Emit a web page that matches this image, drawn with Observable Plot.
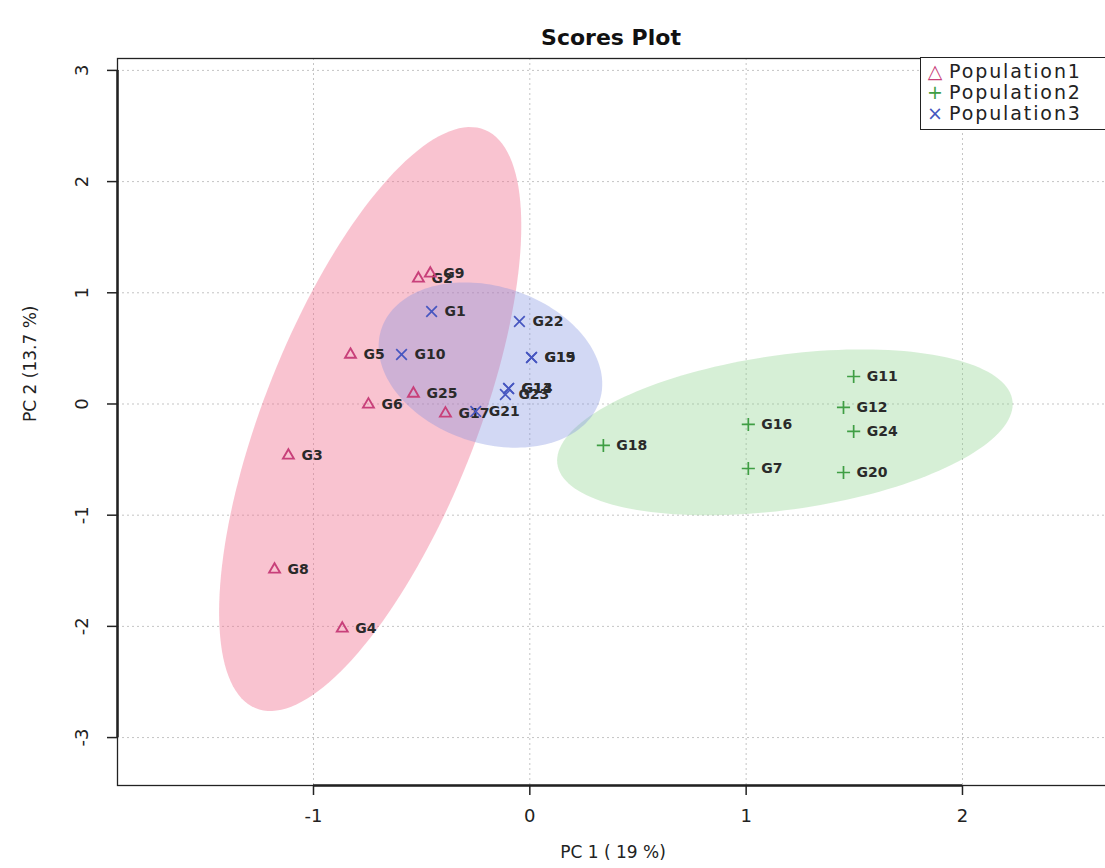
<!DOCTYPE html>
<html><head><meta charset="utf-8">
<script src="https://cdn.jsdelivr.net/npm/d3@7"></script>
<script src="https://cdn.jsdelivr.net/npm/@observablehq/plot@0.6"></script>
<style>
body{margin:0;background:#fff;overflow:hidden;font-family:"DejaVu Sans",sans-serif;}
#wrap{position:relative;width:1105px;height:868px;overflow:hidden;}
#title{height:50px;position:relative;}
#title span{position:absolute;left:0;width:1222px;text-align:center;top:26px;font-weight:bold;font-size:22px;line-height:24px;color:#111;}
#chart svg{max-width:none !important;display:block;}
#legend{position:absolute;left:920px;top:57px;width:220px;height:73px;border:1.5px solid #222;background:#fff;box-sizing:border-box;padding-top:3px;}
.row{height:21px;line-height:21px;font-size:19px;color:#222;white-space:nowrap;letter-spacing:1.9px;}
.row .sym{display:inline-block;width:16px;text-align:center;margin:0 6px 0 6px;letter-spacing:0;}
g[aria-label="sample labels"] text{letter-spacing:1.6px;}
g[aria-label="axis titles"] text{letter-spacing:1.6px;}
</style></head>
<body>
<div id="wrap">
  <div id="title"><span>Scores Plot</span></div>
  <div id="chart"></div>
  <div id="legend"></div>
</div>
<script>
// ---- data ----
const populations = ["Population1", "Population2", "Population3"];
const popColors = ["#c8407a", "#3f9e44", "#4656c0"];
const popFills = ["#f0708f", "#8ad08a", "#7f8fe0"];
const popSymbols = ["△", "+", "×"];

const pop1Labels = ["G2", "G9", "G5", "G25", "G6", "G17", "G3", "G8", "G4"];
const pop1X = [-0.515, -0.460, -0.829, -0.538, -0.746, -0.390, -1.116, -1.180, -0.867];
const pop1Y = [1.129, 1.174, 0.444, 0.094, -0.004, -0.085, -0.463, -1.488, -2.019];

const pop2Labels = ["G11", "G12", "G16", "G24", "G18", "G7", "G20"];
const pop2X = [1.497, 1.450, 1.010, 1.497, 0.340, 1.010, 1.450];
const pop2Y = [0.247, -0.031, -0.184, -0.247, -0.373, -0.580, -0.616];

const pop3Labels = ["G1", "G10", "G22", "G15", "G19", "G14", "G13", "G23", "G21"];
const pop3X = [-0.454, -0.593, -0.048, 0.008, 0.008, -0.098, -0.098, -0.113, -0.250];
const pop3Y = [0.832, 0.445, 0.742, 0.418, 0.418, 0.139, 0.139, 0.085, -0.067];

const xTicks = [-1, 0, 1, 2];
const yTicks = [-3, -2, -1, 0, 1, 2, 3];
const xTitle = "PC 1 ( 19 %)";
const yTitle = "PC 2 (13.7 %)";
const xDomain = [-1.906, 2.675];
const yDomain = [-3.431, 3.107];

// ---- helpers ----
function rows(labels, xs, ys) {
  return labels.map((l, i) => ({label: l, x: xs[i], y: ys[i]}));
}
// 95% confidence ellipse from sample covariance (chi-square, 2 df)
function ellipse(xs, ys, n = 160) {
  const k = xs.length, mx = d3.mean(xs), my = d3.mean(ys);
  let a = 0, b = 0, c = 0;
  for (let i = 0; i < k; i++) {
    const dx = xs[i] - mx, dy = ys[i] - my;
    a += dx * dx; b += dx * dy; c += dy * dy;
  }
  a /= k - 1; b /= k - 1; c /= k - 1;
  const r = Math.sqrt(-2 * Math.log(0.05));
  const l11 = Math.sqrt(a), l21 = b / l11, l22 = Math.sqrt(Math.max(c - l21 * l21, 0));
  return d3.range(n + 1).map(i => {
    const t = 2 * Math.PI * i / n, u = Math.cos(t), v = Math.sin(t);
    return {x: mx + r * l11 * u, y: my + r * (l21 * u + l22 * v)};
  });
}

const p1 = rows(pop1Labels, pop1X, pop1Y);
const p2 = rows(pop2Labels, pop2X, pop2Y);
const p3 = rows(pop3Labels, pop3X, pop3Y);
const e1 = ellipse(pop1X, pop1Y);
const e2 = ellipse(pop2X, pop2Y);
const e3 = ellipse(pop3X, pop3Y);
const allPts = [...p1, ...p2, ...p3];

const labelOpts = {x: "x", y: "y", text: "label", textAnchor: "start", dx: 13,
  fontSize: 14, fontWeight: "bold", fill: "#2a2a2a", ariaLabel: "sample labels"};
const fmt = d => String(d);

const plot = Plot.plot({
  width: 1115, height: 818,
  marginTop: 8, marginBottom: 83, marginLeft: 117, marginRight: 7,
  style: {fontFamily: "DejaVu Sans", fontSize: "18px", color: "#222", background: "transparent"},
  x: {domain: xDomain},
  y: {domain: yDomain},
  marks: [
    Plot.gridX(xTicks, {stroke: "#c4c4c4", strokeOpacity: 1, strokeDasharray: "2,3"}),
    Plot.gridY(yTicks, {stroke: "#c4c4c4", strokeOpacity: 1, strokeDasharray: "2,3"}),
    Plot.line(e1, {x: "x", y: "y", fill: popFills[0], fillOpacity: 0.42, stroke: "none"}),
    Plot.line(e2, {x: "x", y: "y", fill: popFills[1], fillOpacity: 0.35, stroke: "none"}),
    Plot.line(e3, {x: "x", y: "y", fill: popFills[2], fillOpacity: 0.35, stroke: "none"}),
    Plot.frame({stroke: "#222", strokeWidth: 1.3}),
    Plot.ruleY([yDomain[0]], {x1: xTicks[0], x2: xTicks[xTicks.length - 1], stroke: "#222", strokeWidth: 2.5}),
    Plot.ruleX([xDomain[0]], {y1: yTicks[0], y2: yTicks[yTicks.length - 1], stroke: "#222", strokeWidth: 2.5}),
    Plot.axisX(xTicks, {tickSize: 10, tickPadding: 14, tickFormat: fmt, label: null, stroke: "#222", strokeWidth: 1.5, fill: "#222"}),
    Plot.axisY(yTicks, {tickSize: 10, tickPadding: 20, tickRotate: -90, tickFormat: fmt, label: null, stroke: "#222", strokeWidth: 1.5, fill: "#222"}),
    Plot.text(allPts, labelOpts),
    Plot.dot(p1, {x: "x", y: "y", symbol: "triangle2", r: 5.2, stroke: popColors[0], strokeWidth: 1.9, fill: "none"}),
    Plot.dot(p2, {x: "x", y: "y", symbol: "plus", r: 4.3, stroke: popColors[1], strokeWidth: 1.7, fill: "none"}),
    Plot.dot(p3, {x: "x", y: "y", symbol: "times", r: 4.9, stroke: popColors[2], strokeWidth: 1.7, fill: "none"}),
    Plot.text([xTitle], {frameAnchor: "bottom", dy: 72, fontSize: 17, fill: "#222", ariaLabel: "axis titles"}),
    Plot.text([yTitle], {frameAnchor: "left", rotate: -90, dx: -87, dy: 0, fontSize: 17, fill: "#222", ariaLabel: "axis titles"})
  ]
});
document.getElementById("chart").appendChild(plot);

const legend = document.getElementById("legend");
populations.forEach((p, i) => {
  const row = document.createElement("div");
  row.className = "row";
  const s = document.createElement("span");
  s.className = "sym";
  s.style.color = popColors[i];
  s.textContent = popSymbols[i];
  row.appendChild(s);
  row.appendChild(document.createTextNode(p));
  legend.appendChild(row);
});
</script>
</body></html>
